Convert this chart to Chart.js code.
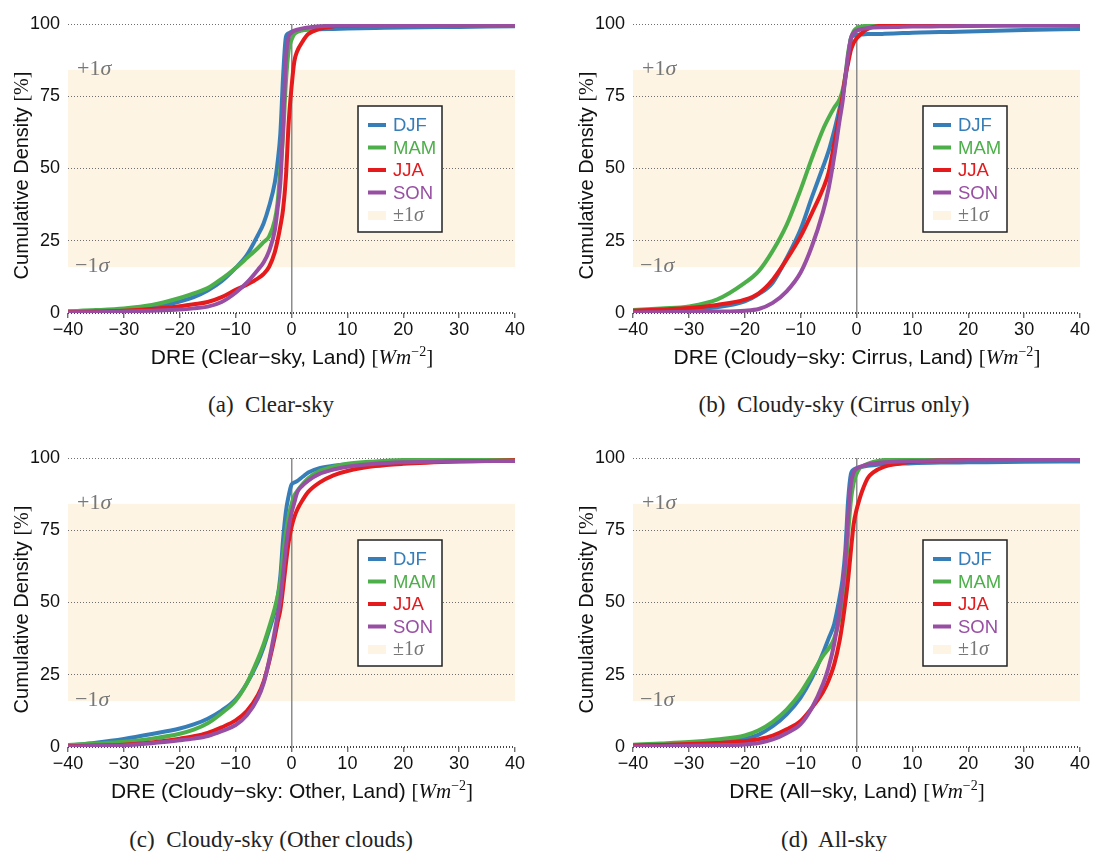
<!DOCTYPE html>
<html>
<head>
<meta charset="utf-8">
<script src="https://cdn.jsdelivr.net/npm/chart.js@4.4.1/dist/chart.umd.min.js"></script>
<style>
  body { margin: 0; background: #fff; }
  #fig { position: relative; width: 1093px; height: 851px; overflow: hidden; }
  #fig canvas { position: absolute; }
  .xt { position: absolute; font-family: "Liberation Sans", Arial, sans-serif; font-size: 21px; color: #111;
        white-space: nowrap; transform: translate(-50%, -50%); }
  .xt .u { font-family: "Liberation Serif", serif; }
  .xt sup { font-size: 14px; }
  .cap { position: absolute; font-family: "Liberation Serif", serif; font-size: 23px; color: #222;
         white-space: nowrap; transform: translate(-50%, -50%); }
</style>
</head>
<body>
<div id="fig">
  <canvas id="cA" width="528" height="345" style="left:0;top:0"></canvas>
  <canvas id="cB" width="528" height="345" style="left:565px;top:0"></canvas>
  <canvas id="cC" width="528" height="345" style="left:0;top:434px"></canvas>
  <canvas id="cD" width="528" height="345" style="left:565px;top:434px"></canvas>

  <div class="xt" style="left:292px;top:357px">DRE (Clear−sky, Land) <span class="u">[<i>Wm</i><sup>−2</sup>]</span></div>
  <div class="xt" style="left:857px;top:357px">DRE (Cloudy−sky: Cirrus, Land) <span class="u">[<i>Wm</i><sup>−2</sup>]</span></div>
  <div class="xt" style="left:292px;top:791px">DRE (Cloudy−sky: Other, Land) <span class="u">[<i>Wm</i><sup>−2</sup>]</span></div>
  <div class="xt" style="left:857px;top:791px">DRE (All−sky, Land) <span class="u">[<i>Wm</i><sup>−2</sup>]</span></div>

  <div class="cap" style="left:271px;top:405px">(a)&nbsp; Clear-sky</div>
  <div class="cap" style="left:834px;top:405px">(b)&nbsp; Cloudy-sky (Cirrus only)</div>
  <div class="cap" style="left:271px;top:840px">(c)&nbsp; Cloudy-sky (Other clouds)</div>
  <div class="cap" style="left:834px;top:840px">(d)&nbsp; All-sky</div>
</div>

<script>
const dreGrid = [-40, -35, -30, -25, -20, -17.5, -15, -12.5, -10, -8, -6, -5, -4, -3, -2.5, -2, -1.5, -1, -0.5,
                 0, 0.5, 1, 2, 3, 5, 7.5, 10, 15, 20, 30, 40];

const seasons = ['DJF', 'MAM', 'JJA', 'SON'];
const sigmaBand = [15.87, 84.13];
const yTitleText = 'Cumulative Density ';
const yTitleUnit = '[%]';

// (a) clear-sky
const clearDJF = [0.5, 0.8, 1.2, 2.2, 4, 5.5, 7.8, 11, 15.6, 20, 27, 31, 37, 45, 52, 62, 82, 95.5, 96.8,
                  97.3, 97.6, 97.8, 98, 98.1, 98.2, 98.3, 98.4, 98.6, 98.8, 99, 99.2];
const clearMAM = [0.6, 1, 1.6, 2.8, 5.2, 6.8, 8.6, 11.8, 15.6, 19, 22.5, 24.5, 26.5, 32, 38, 49.6, 62, 80, 91,
                  94.5, 96.5, 97.2, 97.8, 98.2, 99, 99.5, 99.7, 99.8, 99.8, 99.8, 99.8];
const clearJJA = [0.3, 0.5, 0.8, 1.4, 2.3, 3, 3.8, 5.5, 8, 9.8, 12, 13.5, 16, 21, 25, 30, 36, 47, 66,
                  78, 87, 90.5, 94, 96.5, 98.3, 99.2, 99.5, 99.7, 99.8, 99.8, 99.8];
const clearSON = [0.2, 0.3, 0.5, 0.8, 1.2, 1.6, 2.2, 3.8, 7, 10.5, 15, 17.5, 21.5, 28.5, 36, 45, 65, 88, 95.5,
                  97, 97.7, 98, 98.5, 98.8, 99.2, 99.4, 99.5, 99.6, 99.6, 99.7, 99.7];

// (b) cloudy-sky, cirrus only
const cirrusDJF = [0.5, 0.8, 1.2, 2, 4, 6.5, 10.5, 19, 29, 40, 50.5, 56, 63, 71, 75, 81, 88, 95, 96,
                   96.2, 96.3, 96.4, 96.5, 96.5, 96.6, 96.8, 97, 97.2, 97.4, 97.9, 98.3];
const cirrusMAM = [1, 1.6, 2.3, 4.6, 10.4, 14.5, 21.5, 30.5, 42.7, 53.5, 63.5, 67.5, 71, 74, 77, 82, 90, 95, 97.5,
                   98.5, 99, 99.2, 99.5, 99.6, 99.7, 99.8, 99.8, 99.8, 99.8, 99.8, 99.8];
const cirrusJJA = [0.8, 1.2, 1.7, 2.8, 4.6, 6.8, 11.5, 18.5, 26.5, 34.5, 43, 48.5, 58.5, 69, 75, 82, 86.5, 91, 93.5,
                   95, 96, 97, 98.3, 99, 99.5, 99.7, 99.8, 99.8, 99.8, 99.8, 99.8];
const cirrusSON = [0.2, 0.3, 0.4, 0.5, 0.8, 1.4, 3.5, 7.5, 14, 23, 35, 43, 54, 67, 73, 81.5, 89, 95, 97,
                   97.7, 98, 98.3, 98.6, 98.8, 98.9, 99, 99.1, 99.2, 99.3, 99.4, 99.5];

// (c) cloudy-sky, other clouds
const otherDJF = [0.5, 1.5, 2.8, 4.5, 6.4, 7.8, 9.8, 12.6, 16.5, 22, 29.5, 34.5, 40.5, 47, 51.5, 59, 72, 81.5, 87,
                  90.8, 91.5, 92, 93.5, 95, 96.5, 97.3, 97.8, 98.4, 98.8, 99.1, 99.3];
const otherMAM = [0.7, 1.2, 1.8, 2.9, 4.6, 6, 8.2, 11.7, 16, 22, 30.5, 35.5, 41.5, 48, 52, 57, 66.5, 74, 80,
                  84, 87, 88.5, 91, 93, 95.5, 97, 98, 98.8, 99.3, 99.6, 99.7];
const otherJJA = [0.3, 0.5, 0.8, 1.6, 2.9, 3.7, 4.9, 6.8, 9.2, 12.4, 18, 22.5, 29.5, 38, 43, 47.4, 55, 63.5, 71,
                  76, 79.5, 82, 85.5, 88.3, 91.5, 94, 95.5, 97.2, 98, 98.8, 99.2];
const otherSON = [0.2, 0.4, 0.6, 1.3, 2.3, 2.9, 3.8, 5.5, 7.6, 11, 17, 22, 30, 40, 45.5, 51, 60, 69, 76,
                  81, 84.5, 88, 90.5, 92.2, 94.5, 96, 97, 98, 98.5, 98.9, 99];

// (d) all-sky
const allDJF = [0.5, 0.7, 1, 1.7, 2.8, 4.3, 7.2, 11.3, 17.1, 23.8, 32.5, 37.5, 42.5, 52, 58, 68, 85.3, 94.5, 96,
                96.5, 96.8, 97, 97.3, 97.5, 97.8, 98, 98.2, 98.4, 98.5, 98.7, 98.8];
const allMAM = [0.8, 1.2, 1.7, 2.6, 4, 5.8, 8.7, 12.9, 18.8, 25, 31.5, 34, 37.5, 44.9, 51, 58.7, 73.8, 85.3, 91.5,
                94.5, 96.3, 97, 98, 98.6, 99.3, 99.5, 99.6, 99.7, 99.8, 99.8, 99.8];
const allJJA = [0.5, 0.7, 1, 1.4, 2, 2.7, 3.9, 6.1, 9, 13.5, 19, 23, 28.5, 37, 43, 50, 58, 68, 77.2,
                82, 85.5, 88.5, 93, 95, 97, 98, 98.7, 99.1, 99.3, 99.4, 99.5];
const allSON = [0.2, 0.3, 0.4, 0.6, 0.9, 1.4, 2.6, 4.8, 7.9, 13.5, 21.8, 27.5, 35.6, 47.2, 55, 64.5, 79.5, 91, 95,
                96.3, 96.8, 97.2, 97.8, 98.1, 98.5, 98.8, 99, 99.1, 99.2, 99.3, 99.3];

const seasonColors = ['#377eb8', '#4daf4a', '#e41a1c', '#984ea3'];
const BAND = '#fdf4e4';
const SANS = '"Liberation Sans", Arial, sans-serif';
const SERIF = '"Liberation Serif", "Times New Roman", serif';

function drawSigma(ctx, x, y, prefix, size) {
  ctx.font = size + 'px ' + SERIF;
  ctx.fillText(prefix, x, y);
  const w = ctx.measureText(prefix).width;
  ctx.font = 'italic ' + size + 'px ' + SERIF;
  ctx.fillText('σ', x + w, y);
}

// shaded ±1σ band plus its labels, under the grid
const sigmaBandPlugin = {
  id: 'sigmaBand',
  beforeDraw(chart) {
    const { ctx, chartArea: a, scales: { y } } = chart;
    const top = y.getPixelForValue(sigmaBand[1]);
    const bot = y.getPixelForValue(sigmaBand[0]);
    ctx.save();
    ctx.fillStyle = BAND;
    ctx.fillRect(a.left, top, a.right - a.left, bot - top);
    ctx.fillStyle = '#777';
    ctx.textBaseline = 'alphabetic';
    drawSigma(ctx, a.left + 9, top + 5, '+1', 22);
    drawSigma(ctx, a.left + 7, bot + 5, '−1', 22);
    ctx.restore();
  }
};

// boxed legend inside the plot
const boxLegendPlugin = {
  id: 'boxLegend',
  afterDatasetsDraw(chart) {
    const { ctx, chartArea: a } = chart;
    const bx = a.left + 290, by = a.top + 82, bw = 84, bh = 126;
    ctx.save();
    ctx.fillStyle = '#fff';
    ctx.fillRect(bx, by, bw, bh);
    ctx.strokeStyle = '#222';
    ctx.lineWidth = 1.5;
    ctx.strokeRect(bx, by, bw, bh);
    ctx.textBaseline = 'middle';
    chart.data.datasets.forEach((ds, i) => {
      const yy = by + 19 + i * 22.5;
      ctx.strokeStyle = ds.borderColor;
      ctx.lineWidth = 4;
      ctx.beginPath();
      ctx.moveTo(bx + 10, yy);
      ctx.lineTo(bx + 28, yy);
      ctx.stroke();
      ctx.fillStyle = ds.borderColor;
      ctx.font = '18.5px ' + SANS;
      ctx.fillText(ds.label, bx + 35, yy + 1);
    });
    const ys = by + 19 + 4 * 22.5;
    ctx.fillStyle = BAND;
    ctx.fillRect(bx + 10, ys - 4, 18, 9);
    ctx.fillStyle = '#777';
    ctx.textBaseline = 'alphabetic';
    drawSigma(ctx, bx + 35, ys + 6, '±1', 20);
    ctx.restore();
  }
};

// rotated y title, sans text with a serif unit
const yTitlePlugin = {
  id: 'yTitle',
  afterDraw(chart) {
    const { ctx, chartArea: a } = chart;
    const sans = '20px ' + SANS, serif = '20px ' + SERIF;
    ctx.save();
    ctx.font = sans;
    const w1 = ctx.measureText(yTitleText).width;
    ctx.font = serif;
    const w2 = ctx.measureText(yTitleUnit).width;
    ctx.translate(28, (a.top + a.bottom) / 2 + 7);
    ctx.rotate(-Math.PI / 2);
    ctx.fillStyle = '#111';
    ctx.textBaseline = 'alphabetic';
    const x0 = -(w1 + w2) / 2;
    ctx.font = sans;
    ctx.fillText(yTitleText, x0, 0);
    ctx.font = serif;
    ctx.fillText(yTitleUnit, x0 + w1, 0);
    ctx.restore();
  }
};

function makePanel(id, series) {
  const datasets = series.map((vals, i) => ({
    label: seasons[i],
    data: dreGrid.map((x, j) => ({ x: x, y: vals[j] })),
    borderColor: seasonColors[i],
    borderWidth: 4,
    pointRadius: 0,
    fill: false,
    cubicInterpolationMode: 'monotone',
    order: 4 - i
  }));

  new Chart(document.getElementById(id), {
    type: 'line',
    data: { datasets: datasets },
    options: {
      responsive: false,
      animation: false,
      layout: { padding: { left: 12, right: 13, top: 24, bottom: 0 } },
      plugins: { legend: { display: false }, tooltip: { enabled: false } },
      scales: {
        x: {
          type: 'linear',
          min: -40, max: 40,
          afterFit(s) { s.height = 32; },
          ticks: {
            stepSize: 10,
            padding: 1,
            color: '#111',
            font: { family: SANS, size: 18 },
            callback: v => String(v).replace('-', '−')
          },
          border: { display: false },
          grid: {
            color: c => (c.tick && c.tick.value === 0) ? '#8c8c8c' : 'rgba(0,0,0,0)',
            lineWidth: 1.5,
            tickColor: '#555',
            tickLength: 5,
            tickWidth: 1.2
          }
        },
        y: {
          min: 0, max: 100,
          afterFit(s) { s.width = 56; },
          ticks: {
            stepSize: 25,
            padding: 8,
            color: '#111',
            font: { family: SANS, size: 18 }
          },
          title: { display: false },
          border: { display: false, dash: [1, 2] },
          grid: {
            drawTicks: false,
            color: c => (c.tick && c.tick.value === 0) ? '#444' : '#6f6f6f',
            lineWidth: c => (c.tick && c.tick.value === 0) ? 2 : 1
          }
        }
      }
    },
    plugins: [sigmaBandPlugin, boxLegendPlugin, yTitlePlugin]
  });
}

makePanel('cA', [clearDJF, clearMAM, clearJJA, clearSON]);
makePanel('cB', [cirrusDJF, cirrusMAM, cirrusJJA, cirrusSON]);
makePanel('cC', [otherDJF, otherMAM, otherJJA, otherSON]);
makePanel('cD', [allDJF, allMAM, allJJA, allSON]);
</script>
</body>
</html>
